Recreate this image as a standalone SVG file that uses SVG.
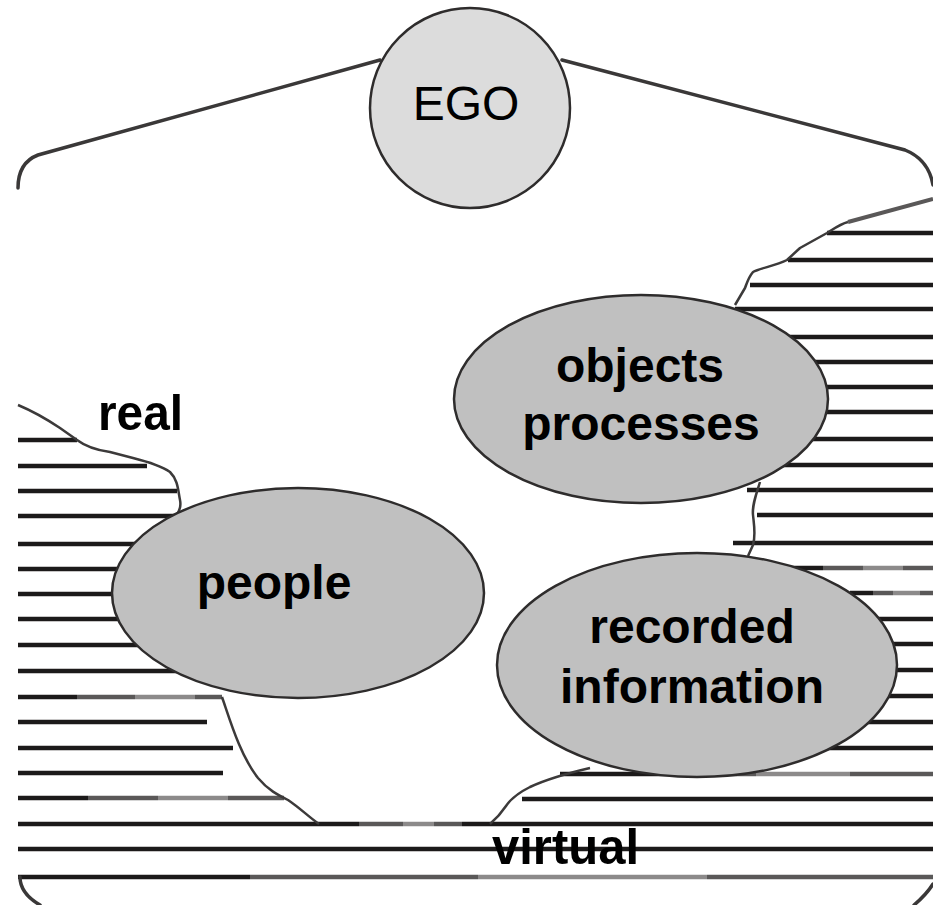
<svg xmlns="http://www.w3.org/2000/svg" width="933" height="905" viewBox="0 0 933 905">
<style>
.h{stroke:#1c1a1a;stroke-width:4.5;fill:none}
.g{stroke:#5a5858;stroke-width:4.5;fill:none}
.l{stroke:#8c8a8a;stroke-width:4.5;fill:none}
.b{stroke:#3c3a3a;stroke-width:2.5;fill:none;stroke-linejoin:round}
.f{stroke:#3a3838;stroke-width:3.5;fill:none;stroke-linecap:round}
.node{stroke:#2e2c2c;stroke-width:2.5}
.t{font-family:"Liberation Sans",Arial,sans-serif;font-size:48px;fill:#000;text-anchor:middle}
.bt{font-weight:bold}
.lab{font-family:"Liberation Sans",Arial,sans-serif;font-size:50px;font-weight:bold;fill:#000}
</style>
<rect width="933" height="905" fill="#fff"/>
<g id="hatching">
<!-- right upper region -->
<line class="h" x1="827" y1="233" x2="933" y2="233"/>
<line class="h" x1="788" y1="260" x2="933" y2="260"/>
<line class="h" x1="750" y1="285" x2="933" y2="285"/>
<line class="h" x1="735" y1="309" x2="933" y2="309"/>
<line class="h" x1="770" y1="337" x2="933" y2="337"/>
<line class="h" x1="790" y1="362" x2="933" y2="362"/>
<line class="h" x1="800" y1="387" x2="933" y2="387"/>
<line class="h" x1="800" y1="412" x2="933" y2="412"/>
<line class="h" x1="790" y1="439" x2="933" y2="439"/>
<line class="h" x1="770" y1="465" x2="933" y2="465"/>
<line class="h" x1="747" y1="490" x2="933" y2="490"/>
<line class="h" x1="757" y1="515" x2="933" y2="515"/>
<line class="h" x1="733" y1="543" x2="933" y2="543"/>
<line class="h" x1="783" y1="568" x2="823" y2="568"/>
<line class="g" x1="823" y1="568" x2="863" y2="568"/>
<line class="l" x1="863" y1="568" x2="903" y2="568"/>
<line class="g" x1="903" y1="568" x2="933" y2="568"/>
<line class="h" x1="850" y1="593" x2="873" y2="593"/>
<line class="g" x1="873" y1="593" x2="893" y2="593"/>
<line class="l" x1="893" y1="593" x2="920" y2="593"/>
<line class="g" x1="920" y1="593" x2="933" y2="593"/>
<line class="h" x1="860" y1="619" x2="933" y2="619"/>
<line class="h" x1="870" y1="644" x2="933" y2="644"/>
<line class="h" x1="870" y1="670" x2="933" y2="670"/>
<line class="h" x1="870" y1="696" x2="933" y2="696"/>
<line class="h" x1="850" y1="722" x2="933" y2="722"/>
<line class="h" x1="810" y1="748" x2="933" y2="748"/>
<line class="h" x1="560" y1="774" x2="737" y2="774"/>
<line class="g" x1="737" y1="774" x2="756" y2="774"/>
<line class="l" x1="756" y1="774" x2="850" y2="774"/>
<line class="g" x1="850" y1="774" x2="933" y2="774"/>
<line class="h" x1="522" y1="799" x2="933" y2="799"/>
<!-- left region -->
<line class="h" x1="18" y1="440" x2="77" y2="440"/>
<line class="h" x1="18" y1="466" x2="147" y2="466"/>
<line class="h" x1="18" y1="491" x2="177" y2="491"/>
<line class="h" x1="18" y1="516" x2="200" y2="516"/>
<line class="h" x1="18" y1="544" x2="160" y2="544"/>
<line class="h" x1="18" y1="569" x2="150" y2="569"/>
<line class="h" x1="18" y1="594" x2="150" y2="594"/>
<line class="h" x1="18" y1="619" x2="150" y2="619"/>
<line class="h" x1="18" y1="645" x2="160" y2="645"/>
<line class="h" x1="18" y1="671" x2="200" y2="671"/>
<line class="h" x1="18" y1="697" x2="77" y2="697"/>
<line class="g" x1="77" y1="697" x2="135" y2="697"/>
<line class="l" x1="135" y1="697" x2="195" y2="697"/>
<line class="g" x1="195" y1="697" x2="222" y2="697"/>
<line class="h" x1="18" y1="722" x2="207" y2="722"/>
<line class="h" x1="18" y1="748" x2="233" y2="748"/>
<line class="h" x1="18" y1="773" x2="223" y2="773"/>
<line class="h" x1="18" y1="798" x2="88" y2="798"/>
<line class="g" x1="88" y1="798" x2="158" y2="798"/>
<line class="l" x1="158" y1="798" x2="228" y2="798"/>
<line class="g" x1="228" y1="798" x2="284" y2="798"/>
<!-- full-width bottom lines -->
<line class="h" x1="18" y1="824" x2="359" y2="824"/>
<line class="g" x1="359" y1="824" x2="403" y2="824"/>
<line class="l" x1="403" y1="824" x2="434" y2="824"/>
<line class="g" x1="434" y1="824" x2="462" y2="824"/>
<line class="h" x1="462" y1="824" x2="933" y2="824"/>
<line class="h" x1="18" y1="849" x2="933" y2="849"/>
<line class="h" x1="18" y1="877" x2="250" y2="877"/>
<line class="g" x1="250" y1="877" x2="478" y2="877"/>
<line class="l" x1="478" y1="877" x2="707" y2="877"/>
<line class="g" x1="707" y1="877" x2="933" y2="877"/>
</g>
<g id="region-borders">
<path class="b" d="M18,405 C30,410 45,418 60,428 L77,440 C85,446 95,450 110,452 L133,458 C145,461 160,465 170,472 C178,480 178,490 180,500 C181,505 180,510 177,514"/>
<path class="b" d="M848,222 C840,224 832,230 827,233 L800,248 L787,260 C775,266 760,268 753,272 C748,278 747,283 745,288 L735,305"/>
<path d="M933,199 L848,222" stroke="#5a5858" stroke-width="4" fill="none"/>
<path class="b" d="M760,482 C756,495 752,505 753,515 C754,525 756,535 753,545 L748,556"/>
<path class="b" d="M222,697 C230,720 240,755 258,778 C268,790 278,795 288,800 C300,808 310,818 319,824 M490,824 C497,818 502,812 506,806 C512,797 520,792 530,787 C545,780 560,775 590,768"/>
<path class="f" d="M20,877 C20,888 28,898 40,905"/>
<path class="f" d="M933,884 C928,892 920,900 914,905"/>
</g>
<g id="connectors">
<path class="f" d="M18,188 C18,170 25,160 38,155 L380,60"/>
<path class="f" d="M562,60 L905,150 C920,156 930,168 933,185"/>
</g>
<g id="ego">
<ellipse class="node" cx="470" cy="108" rx="100" ry="100" fill="#dcdcdc"/>
<text class="t" x="466" y="120">EGO</text>
</g>
<g id="objects-processes">
<ellipse class="node" cx="641" cy="399" rx="187" ry="104" fill="#c0c0c0"/>
<text class="t bt" x="640" y="382">objects</text>
<text class="t bt" x="641" y="440">processes</text>
</g>
<g id="people">
<ellipse class="node" cx="298" cy="593" rx="186" ry="105" fill="#c0c0c0"/>
<text class="t bt" x="274" y="599">people</text>
</g>
<g id="recorded-information">
<ellipse class="node" cx="697" cy="665" rx="200" ry="112" fill="#c0c0c0"/>
<text class="t bt" x="692" y="643">recorded</text>
<text class="t bt" x="692" y="703">information</text>
</g>
<g id="labels">
<text class="lab" x="98" y="430" textLength="85" lengthAdjust="spacingAndGlyphs">real</text>
<text class="lab" x="492" y="864" textLength="147" lengthAdjust="spacingAndGlyphs">virtual</text>
</g>
</svg>
